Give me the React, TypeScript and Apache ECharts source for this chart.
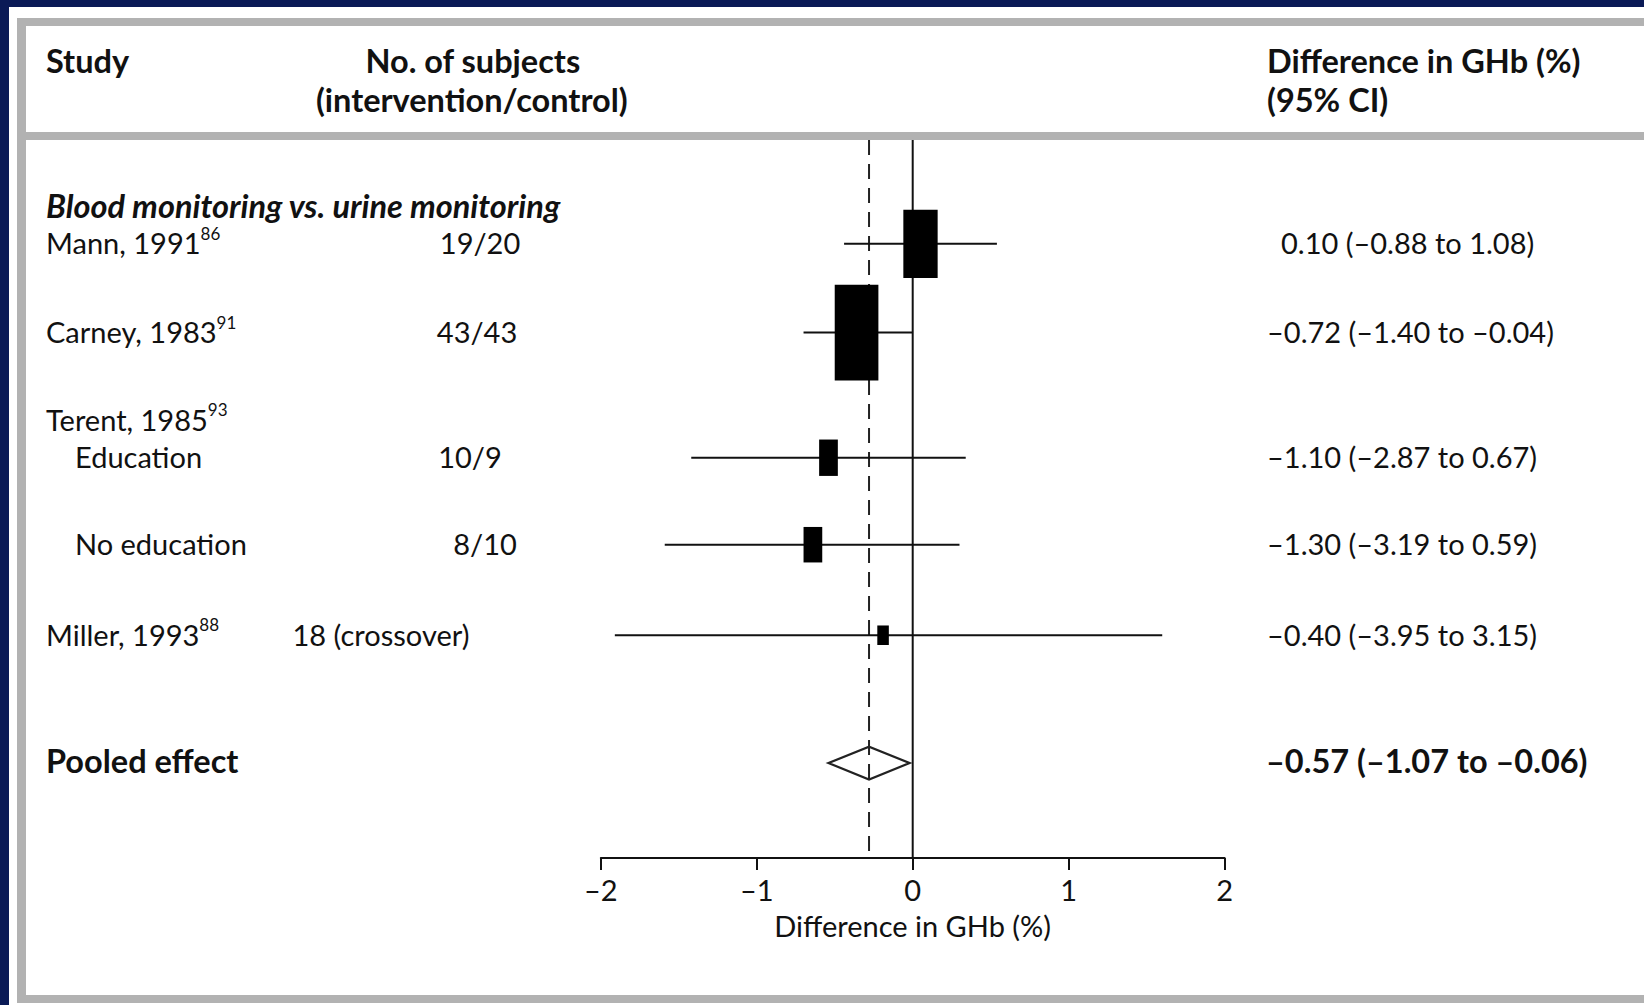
import React, { useEffect, useRef } from "react";
import * as echarts from "echarts";

// ---- data ----
const studyNames = ["Mann, 1991", "Carney, 1983", "Education", "No education", "Miller, 1993"];
const studyRefs = ["86", "91", "", "", "88"];
const nSubjects = ["19/20", "43/43", "10/9", "8/10", "18 (crossover)"];
const ciTexts = [
  "0.10 (–0.88 to 1.08)",
  "–0.72 (–1.40 to –0.04)",
  "–1.10 (–2.87 to 0.67)",
  "–1.30 (–3.19 to 0.59)",
  "–0.40 (–3.95 to 3.15)",
];
// plotted positions as drawn on the axis
const plotEst = [0.05, -0.36, -0.54, -0.64, -0.19];
const plotLow = [-0.44, -0.7, -1.42, -1.59, -1.91];
const plotHigh = [0.54, 0.0, 0.34, 0.3, 1.6];
const rowPos = [1.0, 2.0, 3.41, 4.39, 5.41];
const boxWidth = [0.22, 0.28, 0.12, 0.12, 0.074];
const boxHeight = [0.77, 1.08, 0.41, 0.4, 0.22];
const pooledEst = [-0.28];
const pooledLow = [-0.54];
const pooledHigh = [-0.02];
const pooledPos = [6.85];
const pooledText = "–0.57 (–1.07 to –0.06)";
const xTicks = [-2, -1, 0, 1, 2];

const Y_MIN = -0.17;
const Y_MAX = 7.92;

const FONT = "Lato";
const INK = "#111111";

export default function App() {
  const ref = useRef<HTMLDivElement>(null);

  useEffect(() => {
    document.body.style.margin = "0";
    const chart = echarts.init(ref.current!, null, { renderer: "svg" });

    const gridTop = 140;
    const gridBottomPx = 858;
    const gridH = gridBottomPx - gridTop;
    const rowY = (p: number) => gridTop + ((p - Y_MIN) / (Y_MAX - Y_MIN)) * gridH;

    const fs = 29;
    const bfs = 32.5;
    const txt = (x: number, y: number, text: string, opts: any = {}) => ({
      type: "text",
      x,
      y,
      z: 20,
      style: {
        text,
        fill: INK,
        font: `${opts.italic ? "italic " : ""}${opts.bold ? "bold " : ""}${opts.size || (opts.bold ? bfs : fs)}px ${FONT}`,
        textAlign: opts.align || "left",
        textVerticalAlign: "middle",
        align: opts.align || "left",
        verticalAlign: "middle",
      },
    });
    const supTxt = (x: number, y: number, name: string, sup: string) => ({
      type: "text",
      x,
      y,
      z: 20,
      style: {
        text: sup ? `{n|${name}}{s|${sup}}` : `{n|${name}}`,
        textVerticalAlign: "middle",
        verticalAlign: "middle",
        rich: {
          n: { fontFamily: FONT, fontSize: fs, lineHeight: 36, fill: INK, color: INK },
          s: { fontFamily: FONT, fontSize: 17, lineHeight: 14, verticalAlign: "top", fill: INK, color: INK },
        },
      },
    });

    const texts: any[] = [
      txt(46, 60, "Study", { bold: true }),
      txt(451 * 1.0485, 60, "No. of subjects", { bold: true, align: "center" }),
      txt(450 * 1.0485, 99, "(intervention/control)", { bold: true, align: "center" }),
      txt(1267, 60, "Difference in GHb (%)", { bold: true }),
      txt(1267, 99, "(95% CI)", { bold: true }),
      txt(46, 205, "Blood monitoring vs. urine monitoring", { bold: true, italic: true }),
      supTxt(46, 419, "Terent, 1985", "93"),
      txt(46, 760, "Pooled effect", { bold: true }),
      txt(1266, 760, pooledText, { bold: true }),
    ];
    const nameX = [46, 46, 75, 75, 46];
    const nCenter = [480, 477, 470, 485, 381];
    const ciX = [1281, 1267, 1267, 1267, 1267];
    studyNames.forEach((nm, i) => {
      const y = rowY(rowPos[i]) - 1;
      texts.push(supTxt(nameX[i], y, nm, studyRefs[i]));
      texts.push(txt(nCenter[i], y, nSubjects[i], { align: "center" }));
      texts.push(txt(ciX[i], y, ciTexts[i]));
    });

    const background: any[] = [
      { type: "rect", z: 0, shape: { x: 9, y: 7, width: 1640, height: 1000 }, style: { fill: "#ffffff" } },
      { type: "rect", z: 0, shape: { x: 17, y: 18, width: 1640, height: 985 }, style: { fill: "#b2b2b2" } },
      { type: "rect", z: 0, shape: { x: 26, y: 26, width: 1640, height: 969 }, style: { fill: "#ffffff" } },
      { type: "rect", z: 0, shape: { x: 26, y: 132, width: 1640, height: 8 }, style: { fill: "#b2b2b2" } },
    ];

    const studyData = plotEst.map((e, i) => [e, rowPos[i], plotLow[i], plotHigh[i], boxWidth[i], boxHeight[i]]);
    const pooledData = pooledEst.map((e, i) => [e, pooledPos[i], pooledLow[i], pooledHigh[i]]);

    chart.setOption({
      animation: false,
      backgroundColor: "#0a1a56",
      textStyle: { fontFamily: FONT },
      grid: { left: 600.8, right: 1644 - 1224.6, top: gridTop, bottom: 1005 - gridBottomPx, containLabel: false },
      xAxis: {
        type: "value",
        min: xTicks[0],
        max: xTicks[xTicks.length - 1],
        interval: 1,
        position: "bottom",
        axisLine: { show: true, onZero: false, lineStyle: { color: INK, width: 2 } },
        axisTick: { show: true, inside: false, length: 12, lineStyle: { color: INK, width: 2 } },
        splitLine: { show: false },
        axisLabel: {
          color: INK,
          fontFamily: FONT,
          fontSize: fs,
          margin: 17,
          formatter: (v: number) => (v < 0 ? "–" + Math.abs(v) : String(v)),
        },
        name: "Difference in GHb (%)",
        nameLocation: "middle",
        nameGap: 53,
        nameTextStyle: { color: INK, fontFamily: FONT, fontSize: fs },
      },
      yAxis: { type: "value", min: Y_MIN, max: Y_MAX, inverse: true, show: false },
      graphic: { elements: [...background, ...texts] },
      series: [
        {
          type: "line",
          data: [[0, Y_MIN], [0, Y_MAX]],
          symbol: "none",
          lineStyle: { color: INK, width: 2 },
          z: 3,
        },
        {
          type: "line",
          data: [[pooledEst[0], Y_MIN], [pooledEst[0], Y_MAX]],
          symbol: "none",
          lineStyle: { color: "#222", width: 2, type: [15, 9] },
          z: 3,
        },
        {
          type: "custom",
          clip: false,
          z: 5,
          data: studyData,
          renderItem: (params: any, api: any) => {
            const est = api.value(0);
            const pos = api.value(1);
            const lo = api.value(2);
            const hi = api.value(3);
            const w = api.value(4);
            const h = api.value(5);
            const a = api.coord([lo, pos]);
            const b = api.coord([hi, pos]);
            const c = api.coord([est, pos]);
            const sz = api.size([w, h]);
            return {
              type: "group",
              children: [
                { type: "line", shape: { x1: a[0], y1: a[1], x2: b[0], y2: b[1] }, style: { stroke: INK, lineWidth: 2 } },
                {
                  type: "rect",
                  shape: { x: c[0] - sz[0] / 2, y: c[1] - sz[1] / 2, width: sz[0], height: sz[1] },
                  style: { fill: "#000000" },
                },
              ],
            };
          },
        },
        {
          type: "custom",
          clip: false,
          z: 5,
          data: pooledData,
          renderItem: (params: any, api: any) => {
            const est = api.value(0);
            const pos = api.value(1);
            const lo = api.value(2);
            const hi = api.value(3);
            const l = api.coord([lo, pos]);
            const r = api.coord([hi, pos]);
            const c = api.coord([est, pos]);
            const hh = api.size([0, 0.185])[1];
            return {
              type: "polygon",
              shape: { points: [l, [c[0], c[1] - hh], r, [c[0], c[1] + hh]] },
              style: { fill: "none", stroke: "#222", lineWidth: 2.2 },
            };
          },
        },
      ],
    });

    return () => chart.dispose();
  }, []);

  return (
    <div
      ref={ref}
      style={{ position: "fixed", left: 0, top: 0, width: 1644, height: 1005 }}
    />
  );
}
